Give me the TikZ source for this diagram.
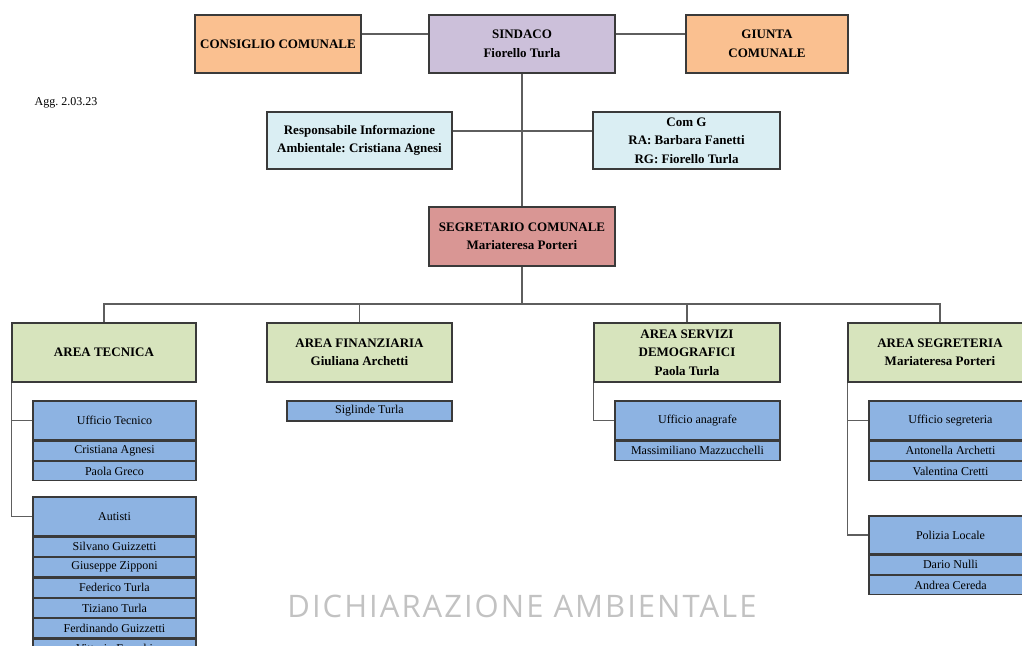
\documentclass[tikz,border=0pt]{standalone}
\usepackage{fontspec}
\setmainfont{Liberation Serif}
\newfontfamily\markfont[LetterSpace=6.5]{Open Sans}
\usetikzlibrary{positioning}
\definecolor{orangebox}{HTML}{FAC090}
\definecolor{lilacbox}{HTML}{CCC0DA}
\definecolor{skybox}{HTML}{DAEEF3}
\definecolor{redbox}{HTML}{D99694}
\definecolor{areagreen}{HTML}{D7E4BD}
\definecolor{officeblue}{HTML}{8DB3E2}
\definecolor{boxline}{HTML}{3A3A3A}
\definecolor{linegray}{HTML}{5E5E5E}
\definecolor{markgray}{HTML}{C2C2C2}
\frenchspacing

\begin{document}
\begin{tikzpicture}[x=1pt,y=-1pt,
  box/.style={draw=boxline,line width=1.2pt,inner sep=0pt,align=center,
    font=\fontsize{13}{18.5}\selectfont\bfseries},
  area/.style={box,fill=areagreen,minimum width=184pt,minimum height=59pt},
  office/.style={draw=boxline,line width=1.2pt,inner sep=0pt,fill=officeblue,
    minimum width=163pt,minimum height=39pt,font=\fontsize{12}{14}\selectfont},
  person/.style={office,minimum height=19.2pt},
  link/.style={draw=linegray,line width=1.3pt}]
  \useasboundingbox (0,0) rectangle (1022,645);
  \clip (0,0) rectangle (1022,645);

  % top row
  \node[box,fill=orangebox,minimum width=166pt,minimum height=58pt] (consiglio) at (278,44) {CONSIGLIO COMUNALE};
  \node[box,fill=lilacbox,minimum width=186pt,minimum height=58pt] (sindaco) at (522,44) {SINDACO\\Fiorello Turla};
  \node[box,fill=orangebox,minimum width=162pt,minimum height=58pt] (giunta) at (767,44) {GIUNTA\\COMUNALE};
  \node[inner sep=0pt,font=\fontsize{12}{14}\selectfont] (agg) at (66,103) {Agg. 2.03.23};

  \node[box,fill=skybox,minimum width=185pt,minimum height=57pt] (resp) at (359.5,140.5) {Responsabile Informazione\\Ambientale: Cristiana Agnesi};
  \node[box,fill=skybox,minimum width=187pt,minimum height=57pt] (comg) at (686.5,140.5) {Com G\\RA: Barbara Fanetti\\RG: Fiorello Turla};
  \node[box,fill=redbox,minimum width=186pt,minimum height=59pt] (segretario) at (522,236.5) {SEGRETARIO COMUNALE\\Mariateresa Porteri};

  % aree
  \node[area] (tecnica) at (104,352.5) {AREA TECNICA};
  \node[area,minimum width=185pt] (finanziaria) at (359.5,352.5) {AREA FINANZIARIA\\Giuliana Archetti};
  \node[area,minimum width=186pt] (servizi) at (687,352.5) {AREA SERVIZI\\DEMOGRAFICI\\Paola Turla};
  \node[area] (segreteria) at (940,352.5) {AREA SEGRETERIA\\Mariateresa Porteri};

  % uffici
  \node[office] (uftec) at (114.5,420.5) {Ufficio Tecnico};
  \node[person,below=0pt of uftec] (agnesi) {Cristiana Agnesi};
  \node[person,below=0pt of agnesi] (greco) {Paola Greco};

  \node[office] (autisti) at (114.5,516.5) {Autisti};
  \node[person,below=0pt of autisti] (silvano) {Silvano Guizzetti};
  \node[person,below=0pt of silvano] (zipponi) {Giuseppe Zipponi};
  \node[person,below=0pt of zipponi] (federico) {Federico Turla};
  \node[person,below=0pt of federico] (tiziano) {Tiziano Turla};
  \node[person,below=0pt of tiziano] (ferdinando) {Ferdinando Guizzetti};
  \node[person,below=0pt of ferdinando] (franchi) {Vittorio Franchi};

  \node[person,minimum width=165pt,minimum height=20pt] (siglinde) at (369.5,411) {Siglinde Turla};

  \node[office,minimum width=165pt] (anagrafe) at (697.5,420.5) {Ufficio anagrafe};
  \node[person,minimum width=165pt,below=0pt of anagrafe] (mazzucchelli) {Massimiliano Mazzucchelli};

  \node[office] (ufseg) at (950.5,420.5) {Ufficio segreteria};
  \node[person,below=0pt of ufseg] (archetti) {Antonella Archetti};
  \node[person,below=0pt of archetti] (cretti) {Valentina Cretti};

  \node[office,minimum height=38pt] (polizia) at (950.5,535) {Polizia Locale};
  \node[person,below=0pt of polizia] (nulli) {Dario Nulli};
  \node[person,below=0pt of nulli] (cereda) {Andrea Cereda};

  \coordinate (bus) at (522,304);

  \path[link]
    ([yshift=10pt]consiglio.east) edge ([yshift=10pt]sindaco.west)
    ([yshift=10pt]sindaco.east) edge ([yshift=10pt]giunta.west)
    (sindaco.south) edge (segretario.north)
    ([yshift=9.5pt]resp.east) edge ([yshift=9.5pt]comg.west)
    (segretario.south) edge (bus);

  \draw[link] (tecnica.north) |- (bus) -| (segreteria.north);
  \draw[link] (finanziaria.north) |- (bus);
  \draw[link] (servizi.north) |- (bus);

  \draw[link] (tecnica.south west) |- (uftec.west);
  \draw[link] (tecnica.south west) |- (autisti.west);
  \draw[link] (servizi.south west) |- (anagrafe.west);
  \draw[link] (segreteria.south west) |- (ufseg.west);
  \draw[link] (segreteria.south west) |- (polizia.west);

  \node[inner sep=0pt,text=markgray,font=\markfont\fontsize{31}{31}\selectfont] (mark) at (522,606) {DICHIARAZIONE AMBIENTALE};
\end{tikzpicture}
\end{document}
